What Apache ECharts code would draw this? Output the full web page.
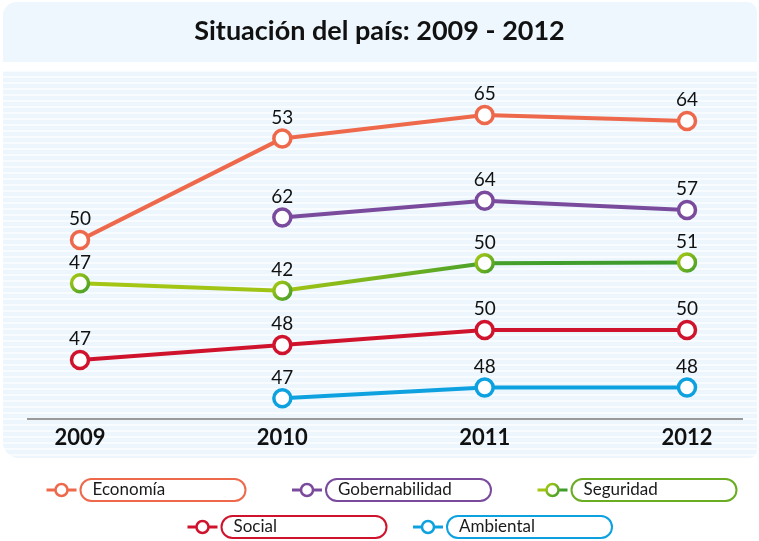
<!DOCTYPE html>
<html>
<head>
<meta charset="utf-8">
<script src="https://cdn.jsdelivr.net/npm/echarts@6/dist/echarts.min.js"></script>
<style>
html,body{margin:0;padding:0;background:#fff;}
#chart{width:759px;height:541px;}
</style>
</head>
<body>
<div id="chart"></div>
<script>
// Categories (years)
const years = ['2009', '2010', '2011', '2012'];
// Series names
const seriesNames = ['Economía', 'Gobernabilidad', 'Seguridad', 'Social', 'Ambiental'];
// Values shown as labels (percent)
const economia = [50, 53, 65, 64];
const gobernabilidad = [null, 62, 64, 57];
const seguridad = [47, 42, 50, 51];
const social = [47, 48, 50, 50];
const ambiental = [null, 47, 48, 48];
// Plotted height of each point as drawn in the reference (the original chart
// does not place points proportionally to their values, 0-100 scale)
const economiaNivel = [53.3, 87.2, 95.0, 93.0];
const gobernabilidadNivel = [null, 60.8, 66.4, 63.3];
const seguridadNivel = [38.9, 36.4, 45.6, 45.8];
const socialNivel = [13.3, 18.3, 23.3, 23.3];
const ambientalNivel = [null, 0.6, 4.2, 4.2];

const FONT = 'Lato, "Open Sans", sans-serif';

const segGrad = new echarts.graphic.LinearGradient(0, 0, 1, 0, [
  {offset: 0, color: '#a6c713'},
  {offset: 0.35, color: '#9fc316'},
  {offset: 0.68, color: '#46a02b'},
  {offset: 1, color: '#3b9a2d'}
]);
const segRing = new echarts.graphic.LinearGradient(0, 0, 1, 1, [
  {offset: 0, color: '#b2cd10'},
  {offset: 1, color: '#3b9a2d'}
]);

const colors = {
  'Economía': '#ee694b',
  'Gobernabilidad': '#7a4b9c',
  'Seguridad': segGrad,
  'Social': '#d0132c',
  'Ambiental': '#0ea1e0'
};

function buildData(levels, values) {
  return levels.map((lv, i) => lv == null ? '-' : {value: lv, label: {formatter: String(values[i])}});
}

function mkSeries(name, levels, values) {
  const c = colors[name];
  return {
    name: name,
    type: 'line',
    data: buildData(levels, values),
    symbol: 'circle',
    symbolSize: 17,
    showSymbol: true,
    connectNulls: false,
    lineStyle: {color: c, width: 4},
    itemStyle: {color: '#fff', borderColor: name === 'Seguridad' ? segRing : c, borderWidth: 3.5},
    label: {show: true, position: 'top', distance: 1, color: '#111', fontSize: 19, fontFamily: FONT},
    emphasis: {disabled: true},
    z: 3
  };
}

// striped pattern for chart panel
const pat = document.createElement('canvas');
pat.width = 8; pat.height = 6;
const pctx = pat.getContext('2d');
pctx.fillStyle = '#ecf6fc'; pctx.fillRect(0, 0, 8, 6);
pctx.fillStyle = '#f8fcff'; pctx.fillRect(0, 4, 8, 2);

function legendItem(name, border) {
  return {name: name, textStyle: {borderColor: border}};
}

const legendText = {
  color: '#1a1a1a', fontSize: 17, fontFamily: FONT,
  borderWidth: 2, borderRadius: 11, width: 144, height: 18,
  padding: [1, 8, 1, 11], backgroundColor: '#fff'
};

const legendCommon = {
  padding: 0, itemWidth: 30, itemHeight: 15,
  textStyle: legendText,
  lineStyle: {width: 3},
  itemStyle: {borderWidth: 2.5}
};

const chart = echarts.init(document.getElementById('chart'), null, {renderer: 'canvas'});
chart.setOption({
  animation: false,
  backgroundColor: '#fff',
  title: {
    text: 'Situación del país: 2009 - 2012',
    left: 'center', top: 13,
    textStyle: {fontSize: 27, fontWeight: 'bold', color: '#111', fontFamily: FONT}
  },
  graphic: [
    {type: 'rect', z: -10, shape: {x: 3, y: 2, width: 754, height: 60, r: [14, 10, 0, 0]}, style: {fill: '#eef7fd'}},
    {type: 'rect', z: -10, shape: {x: 3, y: 71, width: 754, height: 387, r: [0, 0, 8, 16]}, style: {fill: {image: pat, repeat: 'repeat'}}},
    {type: 'line', z: -5, shape: {x1: 27, y1: 419, x2: 743, y2: 419}, style: {stroke: '#9a9a9a', lineWidth: 2}}
  ],
  legend: [
    Object.assign({}, legendCommon, {
      left: 45, top: 478, width: 714, itemGap: 44,
      data: [legendItem('Economía', '#ee694b'), legendItem('Gobernabilidad', '#7a4b9c'), legendItem('Seguridad', '#6aac22')]
    }),
    Object.assign({}, legendCommon, {
      left: 186, top: 515, width: 573, itemGap: 24,
      data: [legendItem('Social', '#d0132c'), legendItem('Ambiental', '#0ea1e0')]
    })
  ],
  grid: {left: 80, right: 72, top: 100, height: 300},
  xAxis: {
    type: 'category', data: years, boundaryGap: false,
    axisLine: {show: false}, axisTick: {show: false}, splitLine: {show: false},
    axisLabel: {margin: 27, color: '#111', fontSize: 22, fontWeight: 'bold', fontFamily: FONT}
  },
  yAxis: {type: 'value', min: 0, max: 100, show: false},
  series: [
    mkSeries('Economía', economiaNivel, economia),
    mkSeries('Gobernabilidad', gobernabilidadNivel, gobernabilidad),
    mkSeries('Seguridad', seguridadNivel, seguridad),
    mkSeries('Social', socialNivel, social),
    mkSeries('Ambiental', ambientalNivel, ambiental)
  ]
});
</script>
</body>
</html>
